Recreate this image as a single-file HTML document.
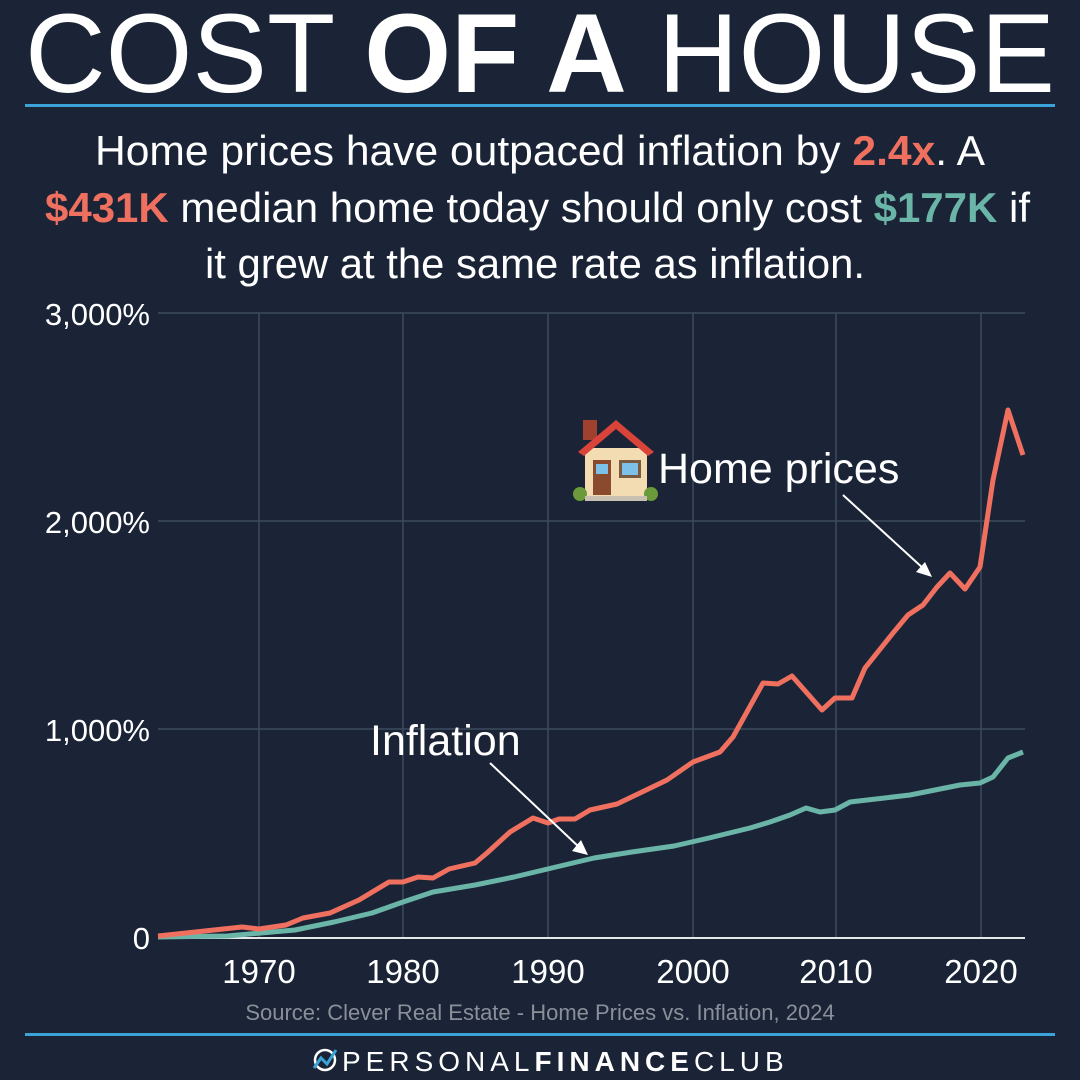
<!DOCTYPE html>
<html><head><meta charset="utf-8"><style>
html,body{margin:0;padding:0;background:#1a2436;}
svg{display:block;}
text{font-family:"Liberation Sans",sans-serif;}
</style></head><body>
<svg width="1080" height="1080" viewBox="0 0 1080 1080" xmlns="http://www.w3.org/2000/svg">
<rect width="1080" height="1080" fill="#1a2436"/>
<text x="25" y="92" font-size="112" fill="#fff" textLength="1030" lengthAdjust="spacingAndGlyphs">COST <tspan font-weight="bold">OF A</tspan> HOUSE</text>
<rect x="25" y="104" width="1030" height="3" fill="#3aa3d8"/>
<g font-size="42" fill="#fff">
<text x="95" y="165" textLength="890" lengthAdjust="spacingAndGlyphs">Home prices have outpaced inflation by <tspan fill="#f07060" font-weight="bold">2.4x</tspan>. A</text>
<text x="45" y="222" textLength="985" lengthAdjust="spacingAndGlyphs"><tspan fill="#f07060" font-weight="bold">$431K</tspan> median home today should only cost <tspan fill="#6ab5a8" font-weight="bold">$177K</tspan> if</text>
<text x="205" y="278" textLength="660" lengthAdjust="spacingAndGlyphs">it grew at the same rate as inflation.</text>
</g>
<g stroke="#3d495d" stroke-width="1.5">
<line x1="158" y1="313" x2="1025" y2="313"/><line x1="158" y1="521" x2="1025" y2="521"/><line x1="158" y1="729" x2="1025" y2="729"/>
<line x1="259" y1="313" x2="259" y2="937"/><line x1="403" y1="313" x2="403" y2="937"/><line x1="548" y1="313" x2="548" y2="937"/><line x1="693" y1="313" x2="693" y2="937"/><line x1="836" y1="313" x2="836" y2="937"/><line x1="981" y1="313" x2="981" y2="937"/>
</g>
<line x1="158" y1="938" x2="1025" y2="938" stroke="#e8e8e8" stroke-width="2"/>
<g font-size="31" fill="#fff" text-anchor="end">
<text x="150" y="325">3,000%</text><text x="150" y="533">2,000%</text><text x="150" y="741">1,000%</text><text x="150" y="949">0</text>
</g>
<g font-size="33" fill="#fff" text-anchor="middle">
<text x="259" y="983">1970</text><text x="403" y="983">1980</text><text x="548" y="983">1990</text><text x="693" y="983">2000</text><text x="836" y="983">2010</text><text x="981" y="983">2020</text>
</g>
<polyline fill="none" stroke="#6ab5a8" stroke-width="5" stroke-linejoin="round" points="158,937 227,936 295,930 334,922 372,913 403,902 433,892 475,885 514,877 556,867 594,858 632,852 674,846 709,838 750,828 770,822 790,815 806,808 820,812 835,810 850,802 910,795 960,785 980,783 993,777 1008,758 1023,752"/>
<polyline fill="none" stroke="#f07060" stroke-width="5" stroke-linejoin="round" points="158,936 242,927 259,929 286,925 303,918 330,913 359,900 389,882 403,882 418,877 433,878 449,869 475,863 487,853 510,832 533,818 548,823 559,819 575,819 590,810 617,804 640,793 667,780 693,762 720,752 733,737 763,683 778,684 792,676 822,710 835,698 852,698 865,668 893,633 908,615 923,605 937,587 950,573 965,589 980,567 993,480 1008,410 1023,455"/>
<g>
<rect x="583" y="420" width="14" height="20" fill="#a0402e"/>
<rect x="585" y="448" width="62" height="50" fill="#f3dcb2"/>
<polygon points="578,452 616,420 654,452 648,456 616,429 584,456" fill="#d9443a"/>
<rect x="593" y="460" width="18" height="35" fill="#8a4a2e"/>
<rect x="596" y="464" width="12" height="10" fill="#7ec1e8"/>
<rect x="619" y="460" width="22" height="18" fill="#7a5a40"/><rect x="622" y="463" width="16" height="12" fill="#7ec1e8"/>
<circle cx="580" cy="494" r="7" fill="#6a9a3a"/><circle cx="651" cy="494" r="7" fill="#6a9a3a"/>
<rect x="585" y="496" width="62" height="5" fill="#c8c0b0"/>
</g>
<text x="658" y="483" font-size="43" fill="#fff">Home prices</text>
<text x="370" y="755" font-size="43" fill="#fff">Inflation</text>
<g stroke="#fff" stroke-width="2">
<line x1="843" y1="495" x2="925" y2="570"/><line x1="490" y1="763" x2="580" y2="848"/>
</g>
<polygon points="932,577 916,572 925,562" fill="#fff"/>
<polygon points="588,855 572,851 581,840" fill="#fff"/>
<text x="540" y="1020" font-size="22" fill="#8a8f99" text-anchor="middle">Source: Clever Real Estate - Home Prices vs. Inflation, 2024</text>
<rect x="25" y="1033" width="1030" height="3" fill="#3aa3d8"/>
<g>
<circle cx="325" cy="1060" r="10" fill="none" stroke="#fff" stroke-width="2.5"/>
<polyline points="314,1068 321,1058 327,1064 336,1050" fill="none" stroke="#3aa3d8" stroke-width="3"/>
</g>
<text x="342" y="1071" font-size="28" fill="#fff" letter-spacing="5">PERSONAL<tspan font-weight="bold">FINANCE</tspan>CLUB</text>
</svg>
</body></html>
